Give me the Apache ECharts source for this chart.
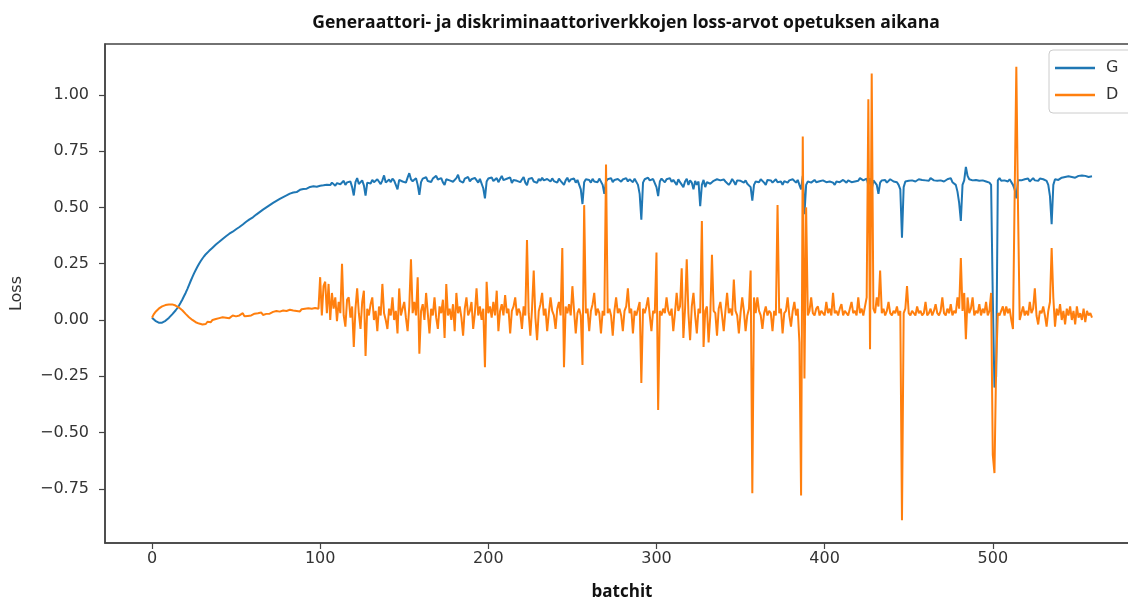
<!DOCTYPE html>
<html>
<head>
<meta charset="utf-8">
<script src="https://cdn.jsdelivr.net/npm/echarts@6/dist/echarts.min.js"></script>
<style>
html,body{margin:0;padding:0;background:#fff;overflow:hidden;}
#chart{width:1128px;height:600px;}
</style>
</head>
<body>
<div id="chart"></div>
<script>
const titleText = "Generaattori- ja diskriminaattoriverkkojen loss-arvot opetuksen aikana";
const xName = "batchit";
const yName = "Loss";
const seriesNames = ["G", "D"];
const xTicks = [0, 100, 200, 300, 400, 500];
const yTicks = [-0.75, -0.5, -0.25, 0, 0.25, 0.5, 0.75, 1.0];

const lossG = [
0.01,0.002,-0.004,-0.009,-0.012,-0.013,-0.012,-0.009,-0.004,0.002,
0.009,0.017,0.025,0.033,0.042,0.052,0.063,0.076,0.09,0.105,
0.12,0.137,0.155,0.173,0.19,0.207,0.222,0.236,0.25,0.262,
0.273,0.283,0.292,0.3,0.307,0.315,0.321,0.329,0.335,0.342,
0.347,0.355,0.36,0.366,0.372,0.376,0.383,0.388,0.392,0.399,
0.403,0.41,0.413,0.42,0.424,0.432,0.436,0.44,0.447,0.452,
0.456,0.462,0.468,0.472,0.479,0.484,0.49,0.494,0.5,0.505,
0.51,0.514,0.52,0.523,0.529,0.533,0.538,0.541,0.546,0.549,
0.553,0.556,0.561,0.563,0.566,0.57,0.568,0.575,0.578,0.576,
0.582,0.585,0.583,0.588,0.591,0.587,0.594,0.597,0.592,0.599,
0.596,0.603,0.598,0.606,0.601,0.607,0.599,0.61,0.604,0.596,
0.608,0.613,0.603,0.609,0.618,0.6,0.611,0.606,0.615,0.59,
0.553,0.612,0.63,0.604,0.61,0.62,0.598,0.552,0.61,0.616,
0.606,0.622,0.612,0.609,0.625,0.618,0.603,0.62,0.642,0.61,
0.616,0.624,0.612,0.628,0.619,0.6,0.58,0.622,0.627,0.615,
0.62,0.61,0.632,0.652,0.625,0.616,0.621,0.63,0.6,0.556,
0.612,0.628,0.62,0.634,0.617,0.623,0.613,0.628,0.62,0.64,
0.624,0.616,0.63,0.611,0.6,0.625,0.632,0.62,0.627,0.614,
0.622,0.63,0.645,0.618,0.626,0.61,0.628,0.62,0.635,0.616,
0.625,0.618,0.631,0.624,0.61,0.627,0.62,0.585,0.54,0.615,
0.628,0.62,0.633,0.617,0.624,0.63,0.612,0.626,0.64,0.621,
0.615,0.627,0.619,0.633,0.608,0.622,0.63,0.618,0.626,0.612,
0.624,0.635,0.61,0.598,0.626,0.62,0.631,0.615,0.623,0.609,
0.627,0.618,0.632,0.62,0.612,0.626,0.62,0.615,0.629,0.617,
0.623,0.61,0.628,0.618,0.625,0.6,0.62,0.632,0.613,0.624,
0.617,0.628,0.61,0.622,0.615,0.58,0.515,0.612,0.625,0.618,
0.622,0.61,0.627,0.615,0.62,0.612,0.628,0.62,0.6,0.56,
0.615,0.625,0.618,0.63,0.612,0.622,0.617,0.626,0.62,0.614,
0.624,0.618,0.63,0.615,0.625,0.62,0.612,0.627,0.619,0.6,
0.56,0.445,0.61,0.625,0.618,0.632,0.62,0.614,0.626,0.62,
0.59,0.55,0.615,0.628,0.62,0.611,0.625,0.618,0.63,0.613,
0.622,0.616,0.6,0.625,0.612,0.62,0.59,0.615,0.627,0.6,
0.62,0.61,0.58,0.618,0.6,0.615,0.505,0.6,0.622,0.59,
0.612,0.62,0.605,0.6,0.618,0.61,0.625,0.617,0.62,0.612,
0.624,0.615,0.62,0.6,0.61,0.626,0.615,0.6,0.62,0.612,
0.618,0.625,0.61,0.62,0.605,0.6,0.59,0.53,0.6,0.615,
0.62,0.612,0.625,0.618,0.61,0.6,0.622,0.615,0.62,0.61,
0.618,0.625,0.612,0.62,0.615,0.6,0.617,0.622,0.61,0.62,
0.614,0.625,0.618,0.61,0.622,0.6,0.58,0.64,0.47,0.6,
0.615,0.62,0.61,0.618,0.622,0.612,0.62,0.616,0.61,0.62,
0.618,0.612,0.62,0.615,0.622,0.61,0.6,0.615,0.62,0.612,
0.618,0.622,0.615,0.61,0.62,0.617,0.612,0.62,0.615,0.622,
0.618,0.63,0.625,0.62,0.612,0.628,0.6,0.63,0.58,0.62,
0.615,0.6,0.56,0.61,0.62,0.615,0.622,0.61,0.618,0.625,
0.62,0.615,0.622,0.612,0.6,0.58,0.365,0.59,0.615,0.622,
0.618,0.625,0.62,0.628,0.615,0.62,0.625,0.618,0.622,0.63,
0.62,0.625,0.618,0.63,0.622,0.62,0.628,0.618,0.625,0.62,
0.628,0.615,0.622,0.625,0.618,0.63,0.612,0.62,0.6,0.57,
0.52,0.44,0.6,0.62,0.68,0.64,0.625,0.632,0.62,0.628,
0.622,0.63,0.618,0.625,0.62,0.628,0.615,0.622,0.61,0.6,
0.1,-0.3,-0.25,0.62,0.63,0.618,0.625,0.62,0.628,0.615,
0.625,0.62,0.6,0.58,0.54,0.62,0.628,0.62,0.615,0.625,
0.62,0.628,0.615,0.622,0.63,0.62,0.625,0.618,0.628,0.62,
0.625,0.63,0.618,0.6,0.55,0.425,0.6,0.625,0.63,0.622,
0.628,0.632,0.625,0.635,0.628,0.638,0.63,0.635,0.64,0.632,
0.636,0.64,0.632,0.642,0.636,0.64,0.645,0.635,0.64,0.638
];

const lossD = [
0.01,0.025,0.035,0.043,0.05,0.055,0.06,0.063,0.066,0.068,
0.069,0.07,0.069,0.067,0.064,0.06,0.055,0.05,0.043,0.035,
0.027,0.02,0.012,0.005,0.0,-0.005,-0.01,-0.013,-0.016,-0.018,
-0.02,-0.012,-0.018,-0.008,-0.004,-0.01,0.0,-0.003,0.004,0.002,
0.008,0.004,0.012,0.006,0.01,0.018,0.008,0.012,0.02,0.012,
0.016,0.01,0.02,0.014,0.03,0.016,0.022,0.018,0.026,0.02,
0.024,0.028,0.02,0.03,0.025,0.033,0.022,0.03,0.027,0.034,
0.028,0.032,0.036,0.03,0.04,0.033,0.037,0.031,0.042,0.036,
0.04,0.035,0.045,0.038,0.042,0.047,0.04,0.044,0.038,0.048,
0.043,0.05,0.046,0.052,0.044,0.05,0.047,0.053,0.048,0.05,
0.19,0.02,0.15,0.17,0.03,0.16,0.0,0.12,0.05,0.1,
-0.005,0.08,0.03,0.25,0.02,-0.03,0.09,0.1,0.01,0.06,
-0.12,0.05,0.14,0.03,-0.04,0.08,0.13,-0.16,0.05,0.02,
0.07,0.1,0.0,0.04,-0.05,0.06,0.02,0.16,0.03,0.0,
-0.04,0.05,0.02,0.1,0.0,0.04,-0.06,0.14,0.02,0.05,
0.08,0.01,-0.05,0.06,0.27,0.03,0.08,0.02,0.19,-0.15,
0.04,0.07,0.0,0.12,0.03,-0.06,0.05,0.02,0.1,0.01,
-0.04,0.06,0.03,0.09,-0.08,0.16,0.02,0.05,0.0,0.07,
-0.05,0.12,0.03,0.06,0.01,-0.07,0.05,0.1,0.02,0.04,
0.08,-0.04,0.03,0.14,0.02,0.06,0.0,0.05,-0.21,0.17,
0.03,0.06,0.01,0.08,0.02,0.13,-0.05,0.04,0.07,0.02,
0.11,0.03,0.05,-0.06,0.04,0.06,0.1,0.02,0.05,0.03,
-0.04,0.06,0.02,0.355,0.03,-0.07,0.05,0.22,0.01,-0.09,
0.04,0.07,0.12,0.02,0.05,-0.05,0.03,0.1,0.04,0.02,
-0.04,0.05,0.08,0.02,0.32,-0.21,0.06,0.03,0.07,0.02,
0.15,0.04,-0.06,0.03,0.05,0.02,-0.2,0.51,0.03,0.05,
-0.05,0.04,0.07,0.12,0.02,0.05,0.03,-0.06,0.04,0.02,
0.69,0.03,0.05,0.02,-0.07,0.04,0.1,0.03,0.05,0.02,
-0.05,0.04,0.06,0.14,0.03,0.05,-0.06,0.04,0.02,0.05,
0.08,-0.28,0.05,0.03,0.06,0.1,0.02,-0.05,0.04,0.03,
0.30,-0.40,0.04,0.02,0.05,0.03,0.1,0.04,0.02,0.05,
-0.05,0.03,0.12,0.04,0.06,0.23,-0.08,0.05,0.27,0.03,
-0.09,0.06,0.12,0.02,-0.06,0.05,0.03,0.44,-0.12,0.04,
0.06,-0.1,0.02,0.29,0.04,0.03,-0.07,0.05,0.08,0.02,
-0.05,0.04,0.12,0.03,0.05,0.02,0.18,0.04,0.02,-0.06,
0.03,0.1,0.04,-0.05,0.02,0.05,0.22,-0.77,0.1,0.03,
0.1,0.04,0.02,-0.04,0.03,0.06,0.02,0.04,0.03,-0.05,
0.04,0.02,0.51,0.03,0.05,-0.06,0.03,0.04,0.1,0.02,
-0.03,0.04,0.08,0.02,0.05,-0.1,-0.78,0.815,-0.26,0.5,
0.02,0.04,0.1,0.03,0.02,0.05,0.06,0.02,0.04,0.03,
0.02,0.08,0.03,0.05,0.02,0.12,0.03,0.04,0.02,0.05,
0.07,0.02,0.04,0.03,0.02,0.05,0.08,0.03,0.04,0.02,
0.1,0.03,0.05,0.02,0.06,0.1,0.98,-0.13,1.095,0.05,
0.03,0.1,0.06,0.22,0.03,0.05,0.02,0.04,0.08,0.03,
0.02,0.04,0.03,0.06,0.02,0.04,-0.89,0.03,0.05,0.15,
0.03,0.02,0.04,0.03,0.02,0.06,0.03,0.04,0.02,0.03,
0.08,0.02,0.03,0.05,0.02,0.04,0.07,0.03,0.02,0.04,
0.1,0.03,0.02,0.05,0.03,0.07,0.02,0.04,0.03,0.1,
0.05,0.275,0.04,0.12,-0.085,0.1,0.03,0.05,0.1,0.02,
0.04,0.03,0.07,0.02,0.05,0.03,0.08,0.02,0.04,0.12,
-0.6,-0.68,-0.2,0.03,0.02,0.04,0.06,0.02,0.06,0.03,
0.05,0.0,-0.04,0.55,1.125,0.5,0.0,0.03,0.06,0.02,
0.04,0.02,0.08,0.03,0.05,0.14,0.02,-0.02,0.04,0.03,
0.06,0.02,-0.03,0.04,0.08,0.32,0.1,-0.03,0.05,0.02,
0.07,0.0,0.04,-0.02,0.05,0.02,0.06,0.0,0.04,-0.02,
0.06,0.01,0.03,0.0,0.05,-0.01,0.04,0.02,0.03,0.01
];

const colors = ["#1f77b4", "#ff7f0e"];
const toPairs = arr => arr.map((v, i) => [i, v]);
const n = lossG.length;
const allVals = lossG.concat(lossD);
const yMinData = Math.min.apply(null, allVals), yMaxData = Math.max.apply(null, allVals);
const yPad = (yMaxData - yMinData) * 0.05;
const xPad = (n - 1) * 0.05;

const chart = echarts.init(document.getElementById('chart'), null, {renderer: 'canvas'});
const axisCol = '#444';
const labelFont = "'DejaVu Sans', sans-serif";
const titleFont = "'Open Sans', 'Noto Sans', sans-serif";
chart.setOption({
  animation: false,
  backgroundColor: '#fff',
  title: {
    text: titleText,
    left: 621, top: 9, textAlign: 'center',
    textStyle: {fontFamily: titleFont, fontWeight: 'bold', fontSize: 17.5, color: '#111'}
  },
  legend: {
    orient: 'vertical',
    left: 1049, top: 50,
    icon: 'rect',
    itemWidth: 40, itemHeight: 2.5, itemGap: 9,
    padding: [9, 40, 9, 6],
    backgroundColor: '#fff',
    borderColor: '#ccc', borderWidth: 1, borderRadius: 4,
    textStyle: {fontFamily: labelFont, fontSize: 16, color: '#333', padding: [0, 0, 0, 6], lineHeight: 18},
    data: seriesNames
  },
  grid: {
    left: 105, top: 44, width: 1034, bottom: 57,
    outerBoundsMode: 'none',
    show: true, borderColor: axisCol, borderWidth: 1.5, containLabel: false
  },
  xAxis: {
    type: 'value',
    min: -xPad, max: (n - 1) + xPad,
    name: xName, nameLocation: 'middle', nameGap: 41,
    nameTextStyle: {fontFamily: titleFont, fontWeight: 'bold', fontSize: 17, color: '#111'},
    axisLine: {show: true, onZero: false, lineStyle: {color: axisCol, width: 1.5}},
    axisTick: {show: true, length: 6, lineStyle: {color: axisCol, width: 1.2}, customValues: xTicks},
    axisLabel: {fontFamily: labelFont, fontSize: 16, color: '#333', margin: 8, customValues: xTicks,
      formatter: v => String(v)},
    splitLine: {show: false}
  },
  yAxis: {
    type: 'value',
    min: yMinData - yPad, max: yMaxData + yPad,
    name: yName, nameLocation: 'middle', nameRotate: 90, nameGap: 80,
    nameTextStyle: {fontFamily: labelFont, fontSize: 16, color: '#333'},
    axisLine: {show: true, onZero: false, lineStyle: {color: axisCol, width: 1.5}},
    axisTick: {show: true, length: 6, lineStyle: {color: axisCol, width: 1.2}, customValues: yTicks},
    axisLabel: {fontFamily: labelFont, fontSize: 16, color: '#333', margin: 16, customValues: yTicks,
      formatter: v => (v < 0 ? '\u2212' : '') + Math.abs(v).toFixed(2)},
    splitLine: {show: false}
  },
  series: [
    {name: seriesNames[0], type: 'line', data: toPairs(lossG), symbol: 'none', showSymbol: false,
     lineStyle: {color: colors[0], width: 2}, itemStyle: {color: colors[0]}, z: 2},
    {name: seriesNames[1], type: 'line', data: toPairs(lossD), symbol: 'none', showSymbol: false,
     lineStyle: {color: colors[1], width: 2}, itemStyle: {color: colors[1]}, z: 3}
  ]
});
</script>
</body>
</html>
